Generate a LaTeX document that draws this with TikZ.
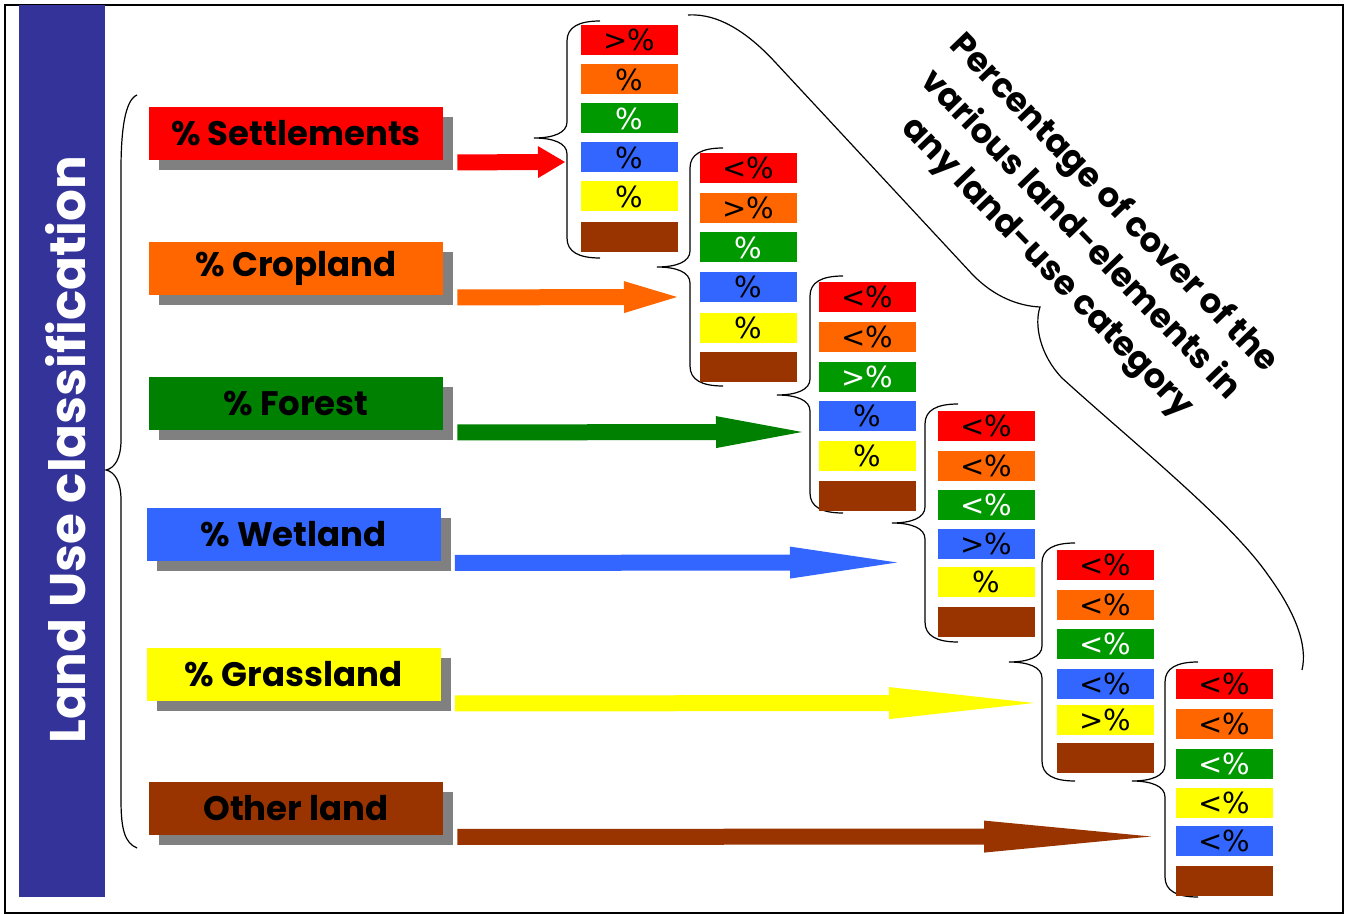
\documentclass[tikz,border=0pt]{standalone}
\usepackage{fontspec}
\setmainfont{Poppins}
\newfontfamily\cellfont{DejaVu Sans}
\usepackage{tikz}
\usetikzlibrary{arrows.meta, backgrounds}

\definecolor{luRed}{RGB}{255,0,0}
\definecolor{luOrange}{RGB}{255,102,0}
\definecolor{luGreenD}{RGB}{0,128,0}
\definecolor{luGreen}{RGB}{0,153,0}
\definecolor{luBlue}{RGB}{51,102,255}
\definecolor{luYellow}{RGB}{255,255,0}
\definecolor{luBrown}{RGB}{153,51,0}
\definecolor{luNavy}{RGB}{51,51,153}
\definecolor{luGrey}{RGB}{128,128,128}

% curly bracket in front of a column: x of the stem, top, tip, bottom
\newcommand{\colbrace}[4]{%
  \draw[bracepen] ({#1+33},#2) .. controls ({#1+12},#2) and (#1,{#2+6}) .. (#1,{#2+20}) -- (#1,{#3-16}) .. controls (#1,{#3-5}) and ({#1-14},#3) .. ({#1-33},#3) .. controls ({#1-14},#3) and (#1,{#3+5}) .. (#1,{#3+16}) -- (#1,{#4-20}) .. controls (#1,{#4-6}) and ({#1+12},#4) .. ({#1+33},#4);%
}

\begin{document}
\begin{tikzpicture}[x=0.5pt,y=0.5pt,yscale=-1,xscale=1,
  bracepen/.style={line width=0.6pt},
  landbox/.style={minimum width=147pt,minimum height=26.5pt,inner sep=0pt,font=\fontsize{17}{20}\selectfont\bfseries},
  shade/.style={fill=luGrey,minimum width=147pt,minimum height=26.5pt,inner sep=0pt},
  cell/.style={minimum width=48.5pt,minimum height=15pt,inner sep=0pt,font=\cellfont\fontsize{14.5}{17}\selectfont},
  fatarrow/.style={line width=8pt,-{Triangle[length=#1,width=16pt,line width=0pt]}}
]
\useasboundingbox (0,0) rectangle (1346,915);

%Shape: Rectangle (frame)
\draw[line width=1pt] (5,5) rectangle (1343,913);
%Shape: Rectangle (side bar)
\fill[luNavy] (19,5) rectangle (105,897);
% Text Node
\node[text=white,rotate=90,font=\fontsize{25}{30}\selectfont\bfseries] (title) at (66,450) {Land Use classification};

%Curve Lines (left bracket)
\draw[bracepen] (137,95) .. controls (125,100) and (121,130) .. (121,170) -- (121,440) .. controls (121,458) and (115,468) .. (106,470) .. controls (115,472) and (121,482) .. (121,500) -- (121,800) .. controls (121,830) and (125,843) .. (137,848);

%Curve Lines (column brackets)
\colbrace{567}{21}{138}{258}
\colbrace{690}{148}{267}{386}
\colbrace{810}{276}{395}{513}
\colbrace{925}{404}{523}{642}
\colbrace{1042}{543}{662}{781}
\colbrace{1165}{662}{781}{897}

%Curve Lines (large bracket)
\draw[bracepen] (688,15) .. controls (720,13) and (750,35) .. (775,62) -- (972,274) .. controls (995,298) and (1020,306) .. (1040,307) .. controls (1034,325) and (1040,355) .. (1062,378) .. controls (1130,440) and (1230,520) .. (1268,575) .. controls (1295,612) and (1308,645) .. (1302,670);

%Shape: Rectangle (land use classes)
\node[landbox,fill=luRed] (sett) at (296,133.5) {\% Settlements};
\node[landbox,fill=luOrange] (crop) at (296,268.5) {\% Cropland};
\node[landbox,fill=luGreenD] (forest) at (296,403.5) {\% Forest};
\node[landbox,fill=luBlue] (wet) at (293.5,534) {\% Wetland};
\node[landbox,fill=luYellow] (grass) at (293.5,674.5) {\% Grassland};
\node[landbox,fill=luBrown] (other) at (296,808) {Other land};

\begin{scope}[on background layer]
\node[shade] (sh1) at ([shift={(10,10)}]sett.center) {};
\node[shade] (sh2) at ([shift={(10,10)}]crop.center) {};
\node[shade] (sh3) at ([shift={(10,10)}]forest.center) {};
\node[shade] (sh4) at ([shift={(10,10)}]wet.center) {};
\node[shade] (sh5) at ([shift={(10,10)}]grass.center) {};
\node[shade] (sh6) at ([shift={(10,10)}]other.center) {};
\end{scope}

%Straight Lines (arrows)
\coordinate (e1) at (565,162);
\coordinate (e2) at (677,297);
\coordinate (e3) at (802,432);
\coordinate (e4) at (897,562.5);
\coordinate (e5) at (1034,703);
\coordinate (e6) at (1151,836.5);
\draw[luRed,fatarrow=13.5pt] ([shift={(14,2)}]sett.south east) -- (e1);
\draw[luOrange,fatarrow=26.5pt] ([shift={(14,2)}]crop.south east) -- (e2);
\draw[luGreenD,fatarrow=43pt] ([shift={(14,2)}]forest.south east) -- (e3);
\draw[luBlue,fatarrow=53.5pt] ([shift={(14,2)}]wet.south east) -- (e4);
\draw[luYellow,fatarrow=72.5pt] ([shift={(14,2)}]grass.south east) -- (e5);
\draw[luBrown,fatarrow=83.5pt] ([shift={(14,2)}]other.south east) -- (e6);

%Shape: Rectangle (column 1)
\node[cell,fill=luRed] (c1r) at (629.5,40) {>\%};
\node[cell,fill=luOrange] (c1o) at (629.5,79.5) {\%};
\node[cell,fill=luGreen,text=white] (c1g) at (629.5,118.5) {\%};
\node[cell,fill=luBlue] (c1b) at (629.5,157.5) {\%};
\node[cell,fill=luYellow] (c1y) at (629.5,196.5) {\%};
\node[cell,fill=luBrown] (c1n) at (629.5,237) {};
%Shape: Rectangle (column 2)
\node[cell,fill=luRed] (c2r) at (748.5,168) {<\%};
\node[cell,fill=luOrange] (c2o) at (748.5,208) {>\%};
\node[cell,fill=luGreen,text=white] (c2g) at (748.5,247.5) {\%};
\node[cell,fill=luBlue] (c2b) at (748.5,287) {\%};
\node[cell,fill=luYellow] (c2y) at (748.5,327.5) {\%};
\node[cell,fill=luBrown] (c2n) at (748.5,366.5) {};
%Shape: Rectangle (column 3)
\node[cell,fill=luRed] (c3r) at (867.5,297) {<\%};
\node[cell,fill=luOrange] (c3o) at (867.5,337) {<\%};
\node[cell,fill=luGreen,text=white] (c3g) at (867.5,376.5) {>\%};
\node[cell,fill=luBlue] (c3b) at (867.5,416) {\%};
\node[cell,fill=luYellow] (c3y) at (867.5,455.5) {\%};
\node[cell,fill=luBrown] (c3n) at (867.5,495.5) {};
%Shape: Rectangle (column 4)
\node[cell,fill=luRed] (c4r) at (986.5,426) {<\%};
\node[cell,fill=luOrange] (c4o) at (986.5,466) {<\%};
\node[cell,fill=luGreen,text=white] (c4g) at (986.5,505) {<\%};
\node[cell,fill=luBlue] (c4b) at (986.5,544) {>\%};
\node[cell,fill=luYellow] (c4y) at (986.5,582) {\%};
\node[cell,fill=luBrown] (c4n) at (986.5,622) {};
%Shape: Rectangle (column 5)
\node[cell,fill=luRed] (c5r) at (1105.5,565) {<\%};
\node[cell,fill=luOrange] (c5o) at (1105.5,604.5) {<\%};
\node[cell,fill=luGreen,text=white] (c5g) at (1105.5,644) {<\%};
\node[cell,fill=luBlue] (c5b) at (1105.5,684) {<\%};
\node[cell,fill=luYellow] (c5y) at (1105.5,719.5) {>\%};
\node[cell,fill=luBrown] (c5n) at (1105.5,758) {};
%Shape: Rectangle (column 6)
\node[cell,fill=luRed] (c6r) at (1224.5,684) {<\%};
\node[cell,fill=luOrange] (c6o) at (1224.5,723.5) {<\%};
\node[cell,fill=luGreen,text=white] (c6g) at (1224.5,763.5) {<\%};
\node[cell,fill=luYellow] (c6y) at (1224.5,803) {<\%};
\node[cell,fill=luBlue] (c6b) at (1224.5,841) {<\%};
\node[cell,fill=luBrown] (c6n) at (1224.5,880.5) {};

% Text Node
\node[rotate=-46,align=center,font=\fontsize{17}{23}\selectfont\bfseries] (note) at (1080,236) {Percentage of cover of the\\various land-elements in\\any land-use category};
\end{tikzpicture}
\end{document}
